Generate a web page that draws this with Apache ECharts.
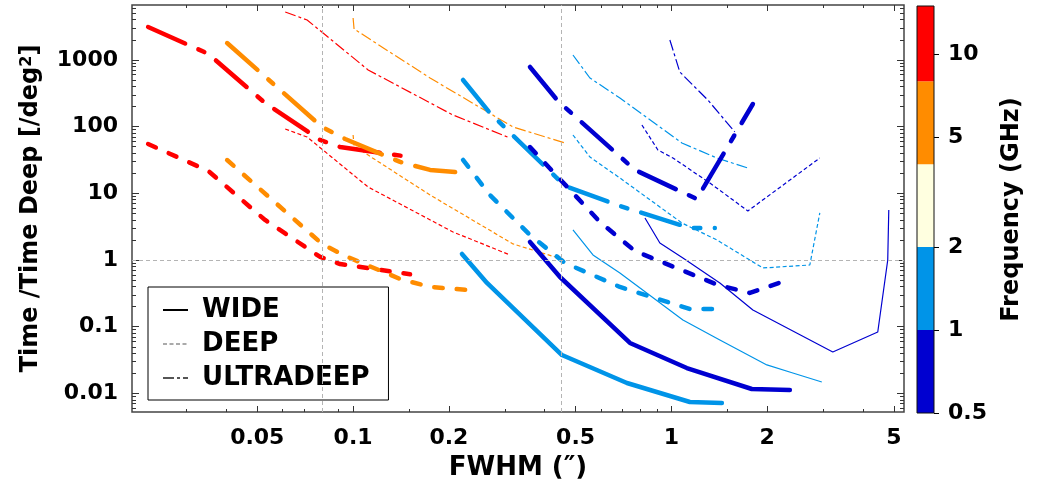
<!DOCTYPE html>
<html>
<head>
<meta charset="utf-8">
<script src="https://cdn.jsdelivr.net/npm/echarts@6/dist/echarts.min.js"></script>
<style>html,body{margin:0;padding:0;background:#fff}#c{width:1038px;height:492px}</style>
</head>
<body>
<div id="c"></div>
<script>
// ---------- axis ranges & ticks ----------
const xRange = [0.0202, 5.38];
const yRange = [0.00526, 6650];
const xMajorTicks = [0.05, 0.1, 0.2, 0.5, 1, 2, 5];
const xMinorTicks = [0.03, 0.04, 0.06, 0.07, 0.08, 0.09, 0.15, 0.3, 0.4, 0.6, 0.7, 0.8, 0.9, 1.5, 3, 4];
const yMajorTicks = [0.01, 0.1, 1, 10, 100, 1000];
const yMinorTicks = [0.006, 0.007, 0.008, 0.009,
  0.02, 0.03, 0.04, 0.05, 0.06, 0.07, 0.08, 0.09,
  0.2, 0.3, 0.4, 0.5, 0.6, 0.7, 0.8, 0.9,
  2, 3, 4, 5, 6, 7, 8, 9,
  20, 30, 40, 50, 60, 70, 80, 90,
  200, 300, 400, 500, 600, 700, 800, 900,
  2000, 3000, 4000, 5000, 6000];
const refLinesX = [0.08, 0.45];
const refLinesY = [1];
const freqBounds = [0.5, 1, 2, 4, 8, 15];
const freqColors = ['#0000d0', '#0094e8', '#ffffe0', '#ff8c00', '#ff0000'];
const freqTicks = [0.5, 1, 2, 5, 10];
const legendNames = ['WIDE', 'DEEP', 'ULTRADEEP'];

// ---------- series data (FWHM arcsec, relative time) ----------
const redThickUdX = [0.0227, 0.0351, 0.0529, 0.0788, 0.0910, 0.151];
const redThickUdY = [3110, 1230, 226, 63.0, 49.4, 35.0];
const redThickDeepX = [0.0227, 0.0351, 0.0529, 0.0788, 0.0910, 0.151];
const redThickDeepY = [54.8, 21.6, 3.98, 1.11, 0.87, 0.61];

const orangeThickUdX = [0.0402, 0.0799, 0.0944, 0.1405, 0.1745, 0.228];
const orangeThickUdY = [1790, 98.6, 65.2, 29.5, 22.4, 20.2];
const orangeThickDeepX = [0.0402, 0.0799, 0.0944, 0.1405, 0.1745, 0.228];
const orangeThickDeepY = [31.5, 1.74, 1.15, 0.519, 0.394, 0.356];

const redThinUdX = [0.0612, 0.0717, 0.1115, 0.206, 0.311];
const redThinUdY = [5225, 3964, 706, 149, 67.5];
const redThinDeepX = [0.0612, 0.0717, 0.1115, 0.206, 0.311];
const redThinDeepY = [92.0, 69.8, 12.4, 2.63, 1.19];

const orangeThinUdX = [0.1, 0.1007, 0.1745, 0.318, 0.463];
const orangeThinUdY = [4248, 2905, 535, 98.6, 56.8];
const orangeThinDeepX = [0.1, 0.1007, 0.1745, 0.318, 0.463];
const orangeThinDeepY = [74.8, 51.1, 9.42, 1.74, 1.0];

const lbThickUdX = [0.2215, 0.269, 0.463, 0.689, 1.143, 1.369];
const lbThickUdY = [500, 160, 12.9, 6.45, 3.02, 3.02];
const lbThickDeepX = [0.2215, 0.269, 0.3595, 0.463, 0.689, 1.143, 1.369];
const lbThickDeepY = [31.6, 9.43, 2.37, 0.902, 0.394, 0.184, 0.184];
const lbThickWideX = [0.2198, 0.2634, 0.453, 0.725, 1.143, 1.441];
const lbThickWideY = [1.23, 0.452, 0.0376, 0.0143, 0.00743, 0.00718];

const blThickUdX = [0.3595, 0.440, 0.768, 1.202, 1.803];
const blThickUdY = [783, 242, 22.4, 8.21, 218];
const blThickDeepX = [0.3595, 0.5965, 0.768, 1.40, 1.764, 2.223];
const blThickDeepY = [49.4, 3.71, 1.364, 0.422, 0.320, 0.468];
const blThickWideX = [0.3595, 0.4467, 0.741, 1.118, 1.789, 2.356];
const blThickWideY = [1.862, 0.556, 0.0570, 0.0240, 0.01164, 0.01125];

const lbThinUdX = [0.4906, 0.5547, 0.689, 1.079, 1.390, 1.739];
const lbThinUdY = [1184, 535, 268, 56.8, 33.8, 23.9];
const lbThinDeepX = [0.4906, 0.5547, 0.689, 1.079, 1.390, 1.938, 2.722, 2.926];
const lbThinDeepY = [74.8, 35.0, 16.96, 3.59, 1.995, 0.759, 0.841, 5.07];
const lbThinWideX = [0.4906, 0.567, 0.689, 1.087, 1.420, 1.995, 2.407, 2.969];
const lbThinWideY = [2.82, 1.19, 0.638, 0.126, 0.0632, 0.0267, 0.0202, 0.0148];

const blThinUdX = [0.989, 1.063, 1.302, 1.582];
const blThinUdY = [1988, 658, 250, 83.0];
const blThinDeepX = [0.808, 0.907, 1.011, 1.321, 1.739, 2.926];
const blThinDeepY = [105.7, 44.6, 33.8, 14.27, 5.43, 33.8];
const blThinWideX = [0.826, 0.920, 1.087, 1.420, 1.803, 3.214, 4.450, 4.783, 4.819];
const blThinWideY = [4.26, 1.80, 1.07, 0.452, 0.178, 0.0418, 0.0833, 1.0, 5.62];

// ---------- styles ----------
const FONT = 'DejaVu Sans';
const RED = '#ff0000', ORANGE = '#ff8c00', LBLUE = '#0094e8', BLUE = '#0000d0';
const THICK = 4.5, THIN = 1.2;
const UD_THICK = [40.5, 14.5, 6.5, 14.5], DEEP_THICK = [8.5, 14];
const UD_THIN = [11, 3, 3, 3], DEEP_THIN = [4, 2.5];

function zip(xs, ys) { return xs.map((x, i) => [x, ys[i]]); }
function curve(xs, ys, color, width, dash) {
  return {
    type: 'line', xAxisIndex: 0, yAxisIndex: 0, data: zip(xs, ys),
    symbol: 'none', showSymbol: false, silent: true, z: 3,
    lineStyle: { color: color, width: width, type: dash, cap: width > 2 ? 'round' : 'butt', join: 'round' }
  };
}
const txt = { fontFamily: FONT, fontWeight: 'bold', color: '#000' };

function tickAxis(pos, range, ticks, len, grid) {
  return {
    type: 'log', gridIndex: grid || 0, position: pos, min: range[0], max: range[1],
    axisLine: { show: false, onZero: false }, splitLine: { show: false },
    axisLabel: { show: false },
    axisTick: { show: true, inside: true, length: len, customValues: ticks, lineStyle: { color: '#333', width: 1 } }
  };
}

const chart = echarts.init(document.getElementById('c'), null, { renderer: 'canvas' });

const xAxes = [
  Object.assign(tickAxis('bottom', xRange, xMajorTicks, 6), {
    axisLabel: Object.assign({ show: true, customValues: xMajorTicks, formatter: v => String(v), margin: 15, fontSize: 22 }, txt),
    name: 'FWHM (\u2033)', nameLocation: 'middle', nameGap: 43, nameMoveOverlap: false,
    nameTextStyle: Object.assign({ fontSize: 26 }, txt)
  }),
  tickAxis('bottom', xRange, xMinorTicks, 3),
  tickAxis('top', xRange, xMajorTicks, 6),
  tickAxis('top', xRange, xMinorTicks, 3),
  { type: 'value', gridIndex: 1, min: 0, max: 1, show: false }
];
const yAxes = [
  Object.assign(tickAxis('left', yRange, yMajorTicks, 7), {
    axisLabel: Object.assign({ show: true, customValues: yMajorTicks, formatter: v => String(v), margin: 14, fontSize: 22 }, txt),
    name: '{a|Time /Time Deep [/deg}{s|2}{a|]}', nameLocation: 'middle', nameGap: 89, nameRotate: 90, nameMoveOverlap: false,
    nameTextStyle: { rich: {
      a: Object.assign({ fontSize: 24, verticalAlign: 'bottom' }, txt),
      s: Object.assign({ fontSize: 16, verticalAlign: 'top' }, txt)
    } }
  }),
  tickAxis('left', yRange, yMinorTicks, 4),
  tickAxis('right', yRange, yMajorTicks, 7),
  tickAxis('right', yRange, yMinorTicks, 4),
  {
    type: 'log', gridIndex: 1, position: 'right', min: freqBounds[0], max: freqBounds[freqBounds.length - 1],
    axisLine: { show: false, onZero: false }, splitLine: { show: false },
    axisTick: { show: true, inside: false, length: 5, customValues: freqTicks, lineStyle: { color: '#000', width: 1 } },
    axisLabel: Object.assign({ show: true, customValues: freqTicks, formatter: v => String(v), margin: 14, fontSize: 22 }, txt),
    name: 'Frequency (GHz)', nameLocation: 'middle', nameRotate: 90, nameGap: 66, nameMoveOverlap: false,
    nameTextStyle: Object.assign({ fontSize: 24 }, txt)
  }
];

const bands = [];
for (let i = 0; i < freqColors.length; i++) {
  bands.push([{ yAxis: freqBounds[i], itemStyle: { color: freqColors[i], opacity: 1 } }, { yAxis: freqBounds[i + 1] }]);
}

const series = [
  {
    type: 'line', xAxisIndex: 0, yAxisIndex: 0, data: [], z: 1, silent: true,
    markLine: {
      silent: true, symbol: ['none', 'none'], label: { show: false }, animation: false,
      lineStyle: { color: '#b4b4b4', width: 1, type: [4, 3] },
      emphasis: { disabled: true },
      data: refLinesX.map(v => ({ xAxis: v })).concat(refLinesY.map(v => ({ yAxis: v })))
    }
  },
  { name: legendNames[0], type: 'line', data: [], symbol: 'none', lineStyle: { color: '#000', width: 1.3, type: 'solid' } },
  { name: legendNames[1], type: 'line', data: [], symbol: 'none', lineStyle: { color: '#aaa', width: 1.3, type: DEEP_THIN } },
  { name: legendNames[2], type: 'line', data: [], symbol: 'none', lineStyle: { color: '#555', width: 1.3, type: UD_THIN } },

  curve(redThinUdX, redThinUdY, RED, THIN, UD_THIN),
  curve(redThinDeepX, redThinDeepY, RED, THIN, DEEP_THIN),
  curve(orangeThinUdX, orangeThinUdY, ORANGE, THIN, UD_THIN),
  curve(orangeThinDeepX, orangeThinDeepY, ORANGE, THIN, DEEP_THIN),
  curve(lbThinUdX, lbThinUdY, LBLUE, THIN, UD_THIN),
  curve(lbThinDeepX, lbThinDeepY, LBLUE, THIN, DEEP_THIN),
  curve(lbThinWideX, lbThinWideY, LBLUE, THIN, 'solid'),
  curve(blThinUdX, blThinUdY, BLUE, THIN, UD_THIN),
  curve(blThinDeepX, blThinDeepY, BLUE, THIN, DEEP_THIN),
  curve(blThinWideX, blThinWideY, BLUE, THIN, 'solid'),

  curve(redThickUdX, redThickUdY, RED, THICK, UD_THICK),
  curve(redThickDeepX, redThickDeepY, RED, THICK, DEEP_THICK),
  curve(orangeThickUdX, orangeThickUdY, ORANGE, THICK, UD_THICK),
  curve(orangeThickDeepX, orangeThickDeepY, ORANGE, THICK, DEEP_THICK),
  curve(lbThickUdX, lbThickUdY, LBLUE, THICK, UD_THICK),
  curve(lbThickDeepX, lbThickDeepY, LBLUE, THICK, DEEP_THICK),
  curve(lbThickWideX, lbThickWideY, LBLUE, THICK, 'solid'),
  curve(blThickUdX, blThickUdY, BLUE, THICK, UD_THICK),
  curve(blThickDeepX, blThickDeepY, BLUE, THICK, DEEP_THICK),
  curve(blThickWideX, blThickWideY, BLUE, THICK, 'solid'),

  {
    type: 'line', xAxisIndex: 4, yAxisIndex: 4, data: [], silent: true, z: 1,
    markArea: { silent: true, animation: false, emphasis: { disabled: true }, data: bands }
  }
];

chart.setOption({
  animation: false,
  backgroundColor: '#fff',
  grid: [
    { left: 132, top: 5, width: 772, height: 407, show: true, borderColor: '#444', borderWidth: 1.5, backgroundColor: 'transparent', outerBoundsMode: 'none', containLabel: false },
    { left: 917, top: 6, width: 17, height: 407, show: true, borderColor: '#111', borderWidth: 1, backgroundColor: 'transparent', z: 10, outerBoundsMode: 'none', containLabel: false }
  ],
  legend: {
    show: true, orient: 'vertical', left: 148, top: 287,
    padding: [10, 19, 9, 14], itemGap: 8, itemWidth: 25, itemHeight: 14,
    backgroundColor: '#fff', borderColor: '#000', borderWidth: 1, borderRadius: 0,
    selectedMode: false, data: legendNames, formatter: n => ' ' + n,
    itemStyle: { color: 'rgba(0,0,0,0)', borderWidth: 0, opacity: 0 },
    textStyle: Object.assign({ fontSize: 26 }, txt)
  },
  xAxis: xAxes,
  yAxis: yAxes,
  series: series
});
</script>
</body>
</html>
